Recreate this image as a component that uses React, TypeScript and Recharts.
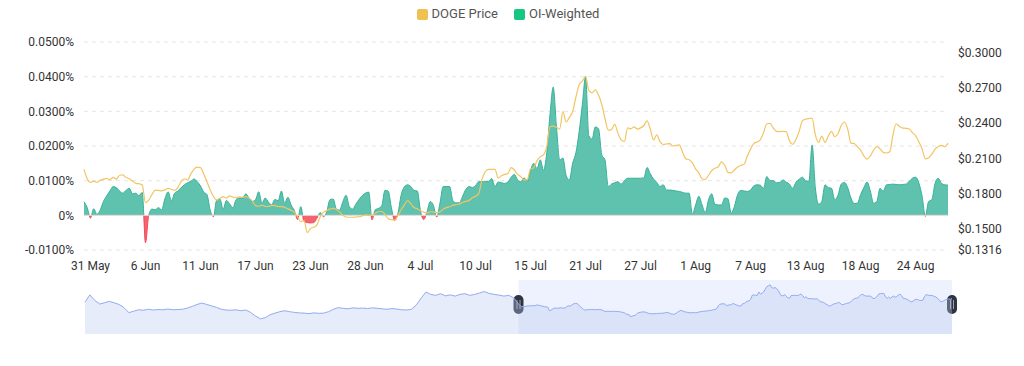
import {
  Area,
  AreaChart,
  CartesianGrid,
  ComposedChart,
  Legend,
  Line,
  ReferenceArea,
  ReferenceLine,
  XAxis,
  YAxis,
} from 'recharts';

// OI-weighted funding rate, in percent, one value every 8h from 30 May 16:00
const FUNDING = [
  0.0039, 0.0022, -0.0008, 0.0019, 0.0003, 0.0015, 0.004, 0.0056, 0.007, 0.0083,
  0.008, 0.007, 0.0064, 0.0072, 0.0078, 0.0062, 0.0064, 0.0057, 0.0066, -0.0079,
  0.0, 0.0018, 0.0016, 0.0022, 0.0016, 0.0048, 0.0068, 0.0042, 0.0064, 0.007,
  0.008, 0.0088, 0.0094, 0.0098, 0.0105, 0.0097, 0.0085, 0.0067, 0.006, 0.0015,
  -0.0004, 0.0044, 0.0047, 0.0018, 0.0043, 0.0033, 0.0022, 0.0045, 0.005, 0.005,
  0.0062, 0.005, 0.004, 0.0045, 0.0068, 0.0035, 0.005, 0.0038, 0.003, 0.0046,
  0.0042, 0.007, 0.0035, 0.0052, 0.003, 0.0014, -0.0012, 0.0025, -0.0018, -0.0021,
  -0.0022, -0.0021, -0.0008, 0.0008, -0.0004, 0.001, 0.0045, 0.0047, 0.0018, 0.0015,
  0.004, 0.0058, 0.0025, 0.0018, 0.0032, 0.0046, 0.0057, 0.0064, 0.0067, -0.0013,
  0.0016, 0.002, 0.0027, 0.0072, 0.007, 0.0022, -0.0015, 0.0005, 0.0058, 0.0082,
  0.0088, 0.0083, 0.0072, 0.007, 0.0012, -0.0012, 0.001, 0.004, 0.0028, -0.0005,
  0.0035, 0.0083, 0.0083, 0.0083, 0.0042, 0.0036, 0.0036, 0.0055, 0.0075, 0.0083,
  0.008, 0.0086, 0.0097, 0.0097, 0.0097, 0.0098, 0.0106, 0.0083, 0.0096, 0.0094,
  0.0092, 0.0096, 0.011, 0.0118, 0.0102, 0.0097, 0.0108, 0.0098, 0.013, 0.015,
  0.0135, 0.016, 0.013, 0.018, 0.029, 0.037, 0.0256, 0.016, 0.0165, 0.0115,
  0.0102, 0.015, 0.018, 0.024, 0.032, 0.04, 0.023, 0.022, 0.0255, 0.025,
  0.0175, 0.016, 0.0083, 0.009, 0.0094, 0.0097, 0.009, 0.01, 0.0107, 0.0107,
  0.0107, 0.0107, 0.0107, 0.0108, 0.0138, 0.012, 0.0105, 0.0095, 0.0083, 0.0088,
  0.0073, 0.0073, 0.0072, 0.007, 0.0069, 0.0066, 0.0064, 0.0064, 0.0003, 0.003,
  0.0055, 0.003, 0.0008, 0.0045, 0.0062, 0.0031, 0.003, 0.003, 0.005, 0.0048,
  0.0006, 0.0026, 0.006, 0.0072, 0.007, 0.0069, 0.0073, 0.0085, 0.0088, 0.0087,
  0.0078, 0.0112, 0.01, 0.01, 0.0094, 0.0095, 0.0102, 0.0096, 0.009, 0.0078,
  0.0095, 0.0104, 0.011, 0.01, 0.0098, 0.0203, 0.008, 0.0032, 0.004, 0.0088,
  0.008, 0.0078, 0.0045, 0.0058, 0.009, 0.0095, 0.008, 0.005, 0.0034, 0.0035,
  0.006, 0.008, 0.0096, 0.007, 0.0035, 0.004, 0.0078, 0.007, 0.0088, 0.0089,
  0.009, 0.0089, 0.0088, 0.0089, 0.009, 0.0098, 0.0107, 0.011, 0.0093, 0.0055,
  -0.0003, 0.004, 0.0045, 0.0092, 0.0107, 0.0092, 0.0088, 0.0087,
];

// DOGE price in USD, same timestamps
const PRICE = [
  0.2006, 0.1925, 0.1893, 0.1905, 0.1895, 0.1912, 0.192, 0.1929, 0.1918, 0.1936,
  0.1922, 0.1955, 0.1958, 0.1935, 0.1925, 0.1905, 0.1886, 0.1882, 0.1872, 0.172,
  0.1742, 0.179, 0.1828, 0.1826, 0.1822, 0.183, 0.1842, 0.1835, 0.1826, 0.185,
  0.19, 0.1925, 0.1915, 0.1965, 0.2008, 0.2025, 0.202, 0.1965, 0.19, 0.183,
  0.1773, 0.1742, 0.1758, 0.1772, 0.176, 0.1778, 0.1768, 0.1762, 0.177, 0.1768,
  0.1773, 0.176, 0.1735, 0.1695, 0.169, 0.17, 0.169, 0.1688, 0.1698, 0.1695,
  0.1688, 0.1686, 0.168, 0.1668, 0.1655, 0.164, 0.16, 0.1558, 0.157, 0.1465,
  0.15, 0.151, 0.153, 0.16, 0.164, 0.1652, 0.1665, 0.1672, 0.1662, 0.164,
  0.1612, 0.1598, 0.1596, 0.1596, 0.1598, 0.16, 0.1608, 0.1615, 0.1612, 0.1615,
  0.163, 0.1643, 0.1645, 0.162, 0.1585, 0.1575, 0.1572, 0.161, 0.166, 0.17,
  0.1738, 0.1712, 0.168, 0.1668, 0.1652, 0.164, 0.1632, 0.1643, 0.164, 0.1636,
  0.1642, 0.1665, 0.1678, 0.1686, 0.1698, 0.1705, 0.171, 0.1722, 0.1732, 0.174,
  0.1762, 0.1775, 0.18, 0.192, 0.1985, 0.2006, 0.2006, 0.2006, 0.193, 0.195,
  0.1962, 0.197, 0.202, 0.2, 0.1962, 0.1942, 0.1915, 0.192, 0.201, 0.202,
  0.208, 0.2114, 0.213, 0.22, 0.237, 0.2375, 0.2365, 0.235, 0.25, 0.241,
  0.245, 0.25, 0.262, 0.2727, 0.276, 0.28, 0.268, 0.266, 0.2685, 0.264,
  0.256, 0.244, 0.234, 0.2345, 0.239, 0.2315, 0.2257, 0.2243, 0.236, 0.2352,
  0.2368, 0.235, 0.236, 0.238, 0.242, 0.235, 0.2257, 0.23, 0.2243, 0.2218,
  0.2222, 0.2226, 0.2205, 0.221, 0.2214, 0.215, 0.2095, 0.2088, 0.206, 0.201,
  0.1975, 0.1925, 0.192, 0.1955, 0.1995, 0.2015, 0.2028, 0.207, 0.204, 0.198,
  0.1975, 0.2, 0.2025, 0.204, 0.205, 0.212, 0.218, 0.2225, 0.224, 0.2258,
  0.232, 0.2395, 0.2398, 0.236, 0.233, 0.2328, 0.233, 0.2328, 0.225, 0.222,
  0.226, 0.233, 0.242, 0.2434, 0.244, 0.2443, 0.23, 0.2235, 0.229, 0.2235,
  0.229, 0.233, 0.2285, 0.231, 0.238, 0.241, 0.235, 0.223, 0.2226, 0.22,
  0.217, 0.212, 0.2092, 0.212, 0.217, 0.22, 0.218, 0.215, 0.2145, 0.2155,
  0.23, 0.2395, 0.2372, 0.2358, 0.2356, 0.235, 0.232, 0.2292, 0.224, 0.218,
  0.2095, 0.2105, 0.2135, 0.2178, 0.22, 0.221, 0.22, 0.223,
];

// daily DOGE price before the zoomed window, only shown in the navigator
const EARLIER_PRICE = [
  0.208, 0.238, 0.215, 0.2, 0.205, 0.211, 0.205, 0.198, 0.185, 0.164,
  0.17, 0.176, 0.174, 0.178, 0.175, 0.177, 0.176, 0.179, 0.176, 0.177,
  0.178, 0.183, 0.19, 0.198, 0.204, 0.198, 0.192, 0.186, 0.178, 0.175,
  0.174, 0.176, 0.172, 0.175, 0.165, 0.15, 0.138, 0.143, 0.155, 0.162,
  0.168, 0.172, 0.168, 0.165, 0.163, 0.162, 0.16, 0.163, 0.161, 0.162,
  0.168, 0.178, 0.185, 0.182, 0.18, 0.184, 0.182, 0.183, 0.181, 0.184,
  0.182, 0.18, 0.178, 0.181, 0.179, 0.176, 0.175, 0.178, 0.195, 0.224,
  0.25, 0.24, 0.236, 0.243, 0.234, 0.238, 0.233, 0.24, 0.243, 0.236,
  0.24, 0.246, 0.252, 0.244, 0.24, 0.237, 0.233, 0.236, 0.226,
];

const TICK_INDEX = [2, 19, 36, 53, 70, 87, 104, 121, 138, 155, 172, 189, 206, 223, 240, 257];
const TICK_LABELS = [
  '31 May', '6 Jun', '11 Jun', '17 Jun', '23 Jun', '28 Jun', '4 Jul', '10 Jul',
  '15 Jul', '21 Jul', '27 Jul', '1 Aug', '7 Aug', '13 Aug', '18 Aug', '24 Aug',
];
const FUNDING_TICKS = [-0.01, 0, 0.01, 0.02, 0.03, 0.04, 0.05];
const PRICE_TICKS = [0.1316, 0.15, 0.18, 0.21, 0.24, 0.27, 0.3];

const LEGEND_ITEMS = [
  { label: 'DOGE Price', color: '#f0c050' },
  { label: 'OI-Weighted', color: '#16c784' },
];

const chartData = FUNDING.map((funding, i) => ({ i, funding, price: PRICE[i] }));
const navData = [
  ...EARLIER_PRICE.map((price, k) => ({ t: k * 3 - 267, price })),
  ...PRICE.map((price, i) => ({ t: i, price })),
];

const fMax = Math.max(...FUNDING);
const fMin = Math.min(...FUNDING);
const zeroOffset = fMax / (fMax - fMin);

const tickStyle = { fontSize: 12, fill: '#333' };

function LegendContent() {
  return (
    <div style={{ display: 'flex', justifyContent: 'center', gap: 16, fontSize: 13, color: '#555', lineHeight: '12px' }}>
      {LEGEND_ITEMS.map((item) => (
        <span key={item.label} style={{ display: 'flex', alignItems: 'center' }}>
          <span style={{ width: 11, height: 11, borderRadius: 2, background: item.color, marginRight: 4 }} />
          {item.label}
        </span>
      ))}
    </div>
  );
}

function SelectionShape(props: any) {
  const { x, y, width, height } = props;
  const hy = y + 15;
  return (
    <g>
      <rect x={x} y={y} width={width} height={height} fill="#bccdfa" fillOpacity={0.25} />
      {[x, x + width].map((hx: number) => (
        <g key={hx}>
          <rect x={hx - 5} y={hy} width={10} height={19} rx={5} fill="#30343f" />
          <line x1={hx - 1.5} x2={hx - 1.5} y1={hy + 5} y2={hy + 14} stroke="#9aa0ad" />
          <line x1={hx + 1.5} x2={hx + 1.5} y1={hy + 5} y2={hy + 14} stroke="#9aa0ad" />
        </g>
      ))}
    </g>
  );
}

export default function App() {
  return (
    <div style={{ fontFamily: 'Roboto, sans-serif', width: 1008 }}>
      <ComposedChart width={1008} height={272} data={chartData} margin={{ top: 0, right: 8, left: 0, bottom: 0 }}>
        <defs>
          <linearGradient id="fundingFill" x1="0" y1="0" x2="0" y2="1">
            <stop offset={zeroOffset} stopColor="#5fc2ae" />
            <stop offset={zeroOffset} stopColor="#f5636f" />
          </linearGradient>
          <linearGradient id="fundingStroke" x1="0" y1="0" x2="0" y2="1">
            <stop offset={zeroOffset} stopColor="#35b096" />
            <stop offset={zeroOffset} stopColor="#f04a5a" />
          </linearGradient>
        </defs>
        <Legend verticalAlign="top" height={34} wrapperStyle={{ height: 34 }} content={LegendContent} />
        <CartesianGrid yAxisId="left" vertical={false} stroke="#e6e6e6" strokeDasharray="4 4" />
        <XAxis
          dataKey="i"
          type="number"
          domain={[0, FUNDING.length - 1]}
          ticks={TICK_INDEX}
          tickFormatter={(v) => TICK_LABELS[TICK_INDEX.indexOf(v)]}
          axisLine={false}
          tickLine={false}
          tickMargin={5}
          tick={tickStyle}
          height={30}
        />
        <YAxis
          yAxisId="left"
          width={76}
          domain={[-0.01, 0.05]}
          ticks={FUNDING_TICKS}
          tickFormatter={(v) => (v === 0 ? '0%' : `${v.toFixed(4)}%`)}
          axisLine={false}
          tickLine={false}
          tickMargin={4}
          tick={tickStyle}
        />
        <YAxis
          yAxisId="right"
          orientation="right"
          width={60}
          domain={[0.1316, 0.3094]}
          ticks={PRICE_TICKS}
          tickFormatter={(v) => `$${v.toFixed(4)}`}
          axisLine={false}
          tickLine={false}
          tickMargin={4}
          tick={tickStyle}
        />
        <ReferenceLine yAxisId="left" y={0} stroke="#e4dcdc" />
        <Area
          yAxisId="left"
          type="monotone"
          dataKey="funding"
          name="OI-Weighted"
          stroke="url(#fundingStroke)"
          strokeWidth={1}
          fill="url(#fundingFill)"
          fillOpacity={1}
          isAnimationActive={false}
        />
        <Line
          yAxisId="right"
          type="monotone"
          dataKey="price"
          name="DOGE Price"
          stroke="#f3c462"
          strokeWidth={1.2}
          dot={false}
          isAnimationActive={false}
        />
      </ComposedChart>
      <AreaChart width={1008} height={54} data={navData} margin={{ top: 0, right: 64, left: 77, bottom: 0 }}>
        <XAxis dataKey="t" type="number" domain={[-267, 267]} hide />
        <YAxis domain={[0.075, 0.3]} hide />
        <ReferenceArea x1={0} x2={267} shape={SelectionShape} />
        <Area
          type="linear"
          dataKey="price"
          stroke="#93abf0"
          strokeWidth={1}
          fill="#b8c8f2"
          fillOpacity={0.35}
          isAnimationActive={false}
        />
      </AreaChart>
    </div>
  );
}
